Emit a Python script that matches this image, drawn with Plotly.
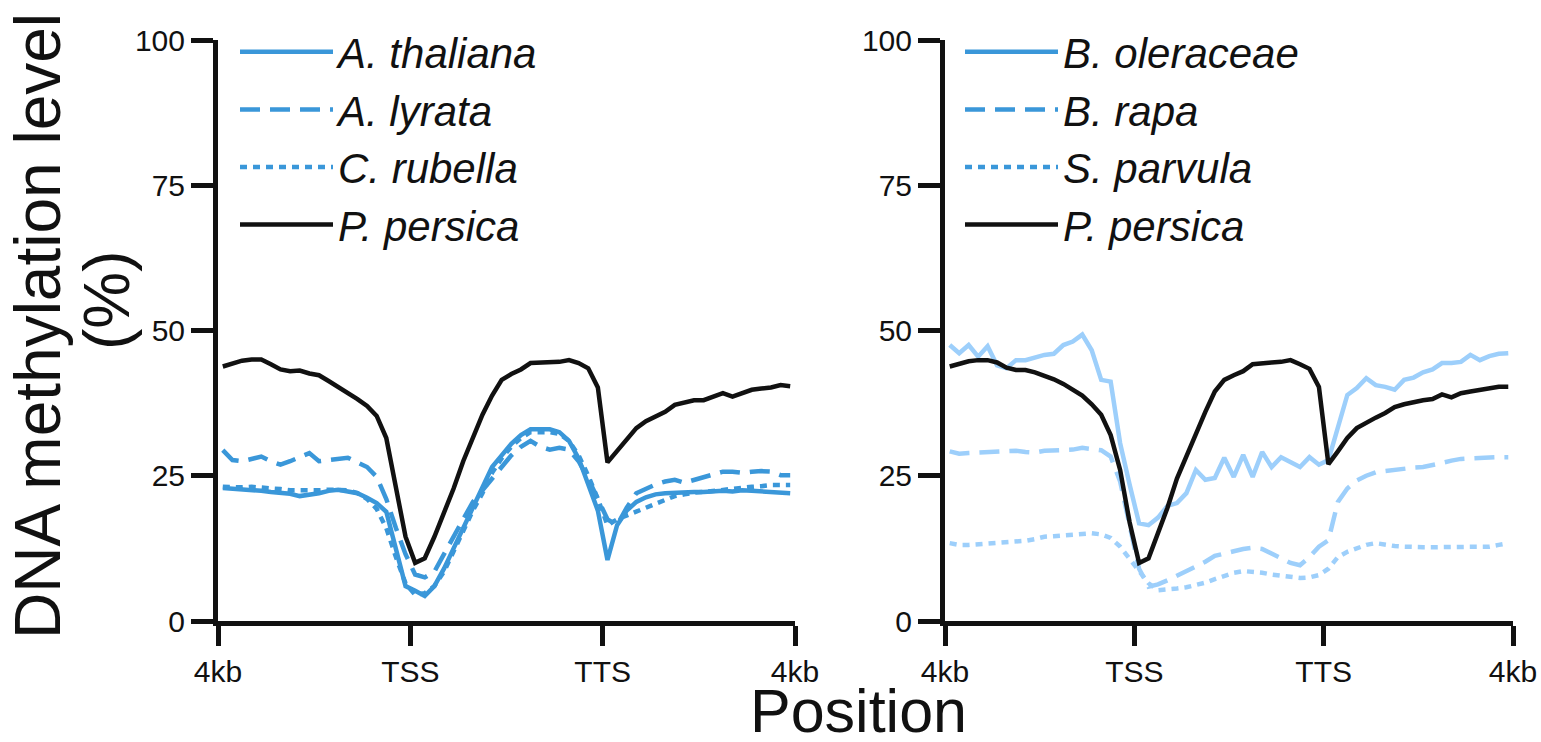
import plotly.graph_objects as go

# ---------------- data ----------------
tick_labels = ["4kb", "TSS", "TTS", "4kb"]
bins = [i + 0.5 for i in range(60)]

# left panel
p_persica_left = [43.8, 44.4, 44.8, 45.0, 45.0, 44.2, 43.3, 43.0, 43.1, 42.6,
                  42.3, 41.3, 40.3, 39.3, 38.2, 37.0, 35.3, 31.5, 23.0, 14.5,
                  10.0, 10.8, 14.5, 18.5, 22.8, 27.5, 31.5, 35.5, 38.8, 41.5,
                  42.5, 43.3, 44.4, 44.5, 44.5, 44.6, 44.9, 44.4, 43.5, 40.2,
                  27.3, 29.3, 31.3, 33.2, 34.4, 35.2, 36.0, 37.2, 37.7, 38.0,
                  38.0, 38.6, 39.2, 38.6, 39.2, 39.8, 40.0, 40.2, 40.6, 40.4]
a_thaliana = [22.9, 22.8, 22.7, 22.5, 22.4, 22.2, 22.1, 21.9, 21.5, 21.7,
              22.0, 22.4, 22.6, 22.3, 22.0, 21.2, 20.3, 18.8, 12.5, 6.0,
              5.2, 4.3, 6.0, 9.0, 12.5, 16.0, 19.5, 23.0, 26.5, 28.5,
              30.5, 32.0, 33.0, 33.0, 33.0, 32.5, 31.0, 28.0, 23.5, 19.0,
              10.5, 16.5, 19.0, 20.5, 21.3, 21.8, 22.0, 22.1, 22.2, 22.2,
              22.2, 22.3, 22.4, 22.3, 22.5, 22.4, 22.3, 22.2, 22.0, 22.0]
a_lyrata = [29.4, 27.7, 27.5, 28.0, 28.3, 27.5, 26.9, 27.5, 28.3, 28.9,
            27.5, 27.7, 28.0, 28.1, 27.3, 26.5, 24.8, 21.0, 16.0, 11.5,
            8.0, 7.5, 8.5, 11.5, 14.5, 17.5, 20.5, 22.5, 24.5, 26.5,
            28.5, 30.0, 31.0, 30.0, 29.5, 29.8, 29.5, 27.5, 24.5, 21.0,
            17.5, 16.5, 19.5, 22.0, 22.8, 23.5, 24.0, 24.3, 23.8, 24.3,
            24.8, 25.2, 25.7, 25.7, 25.5, 25.7, 25.8, 25.7, 25.1, 25.1]
c_rubella = [23.1, 23.0, 23.0, 23.1, 23.0, 22.8, 22.7, 22.5, 22.5, 22.4,
             22.5, 22.6, 22.5, 22.5, 22.0, 21.0, 19.3, 16.0, 11.0, 6.5,
             4.5, 4.8, 6.0, 8.5, 12.0, 15.5, 19.0, 22.0, 25.5, 28.0,
             30.0, 31.5, 32.5, 32.5, 32.5, 32.2, 31.0, 28.5, 25.0, 21.0,
             16.5, 17.5, 18.2, 18.8, 19.5, 20.3, 21.0, 21.5, 21.8, 22.1,
             22.2, 22.4, 22.6, 22.8, 22.9, 23.1, 23.2, 23.4, 23.4, 23.4]

# right panel
p_persica_right = [43.8, 44.3, 44.7, 44.9, 44.9, 44.5, 43.6, 43.2, 43.2, 42.8,
                   42.3, 41.6, 40.8, 39.7, 38.8, 37.3, 35.5, 32.0, 26.0, 17.0,
                   10.0, 10.8, 15.0, 19.5, 24.5, 28.5, 32.5, 36.0, 39.5, 41.5,
                   42.3, 43.0, 44.2, 44.4, 44.5, 44.6, 44.9, 44.2, 43.4, 40.3,
                   27.0, 29.2, 31.5, 33.2, 34.2, 35.0, 35.8, 36.8, 37.3, 37.7,
                   38.0, 38.2, 39.0, 38.5, 39.2, 39.5, 39.8, 40.0, 40.3, 40.3]
b_oleraceae = [47.5, 46.1, 47.5, 45.5, 47.3, 44.0, 43.5, 44.9, 44.9, 45.3,
               45.8, 46.0, 47.5, 48.1, 49.3, 46.6, 41.5, 41.2, 30.6, 23.5,
               16.8, 16.5, 17.8, 19.8, 20.3, 22.0, 26.0, 24.3, 24.6, 28.1,
               24.8, 28.6, 24.8, 29.1, 26.5, 28.2, 27.3, 26.5, 28.2, 26.9,
               27.7, 33.5, 38.9, 40.1, 41.8, 40.6, 40.3, 39.8, 41.5, 41.9,
               42.8, 43.3, 44.4, 44.4, 44.6, 45.8, 44.9, 45.6, 46.0, 46.1]
b_rapa = [29.2, 28.8, 28.9, 29.0, 29.1, 29.2, 29.3, 29.3, 29.1, 29.0,
          29.3, 29.4, 29.4, 29.5, 29.8, 29.6, 29.4, 28.3, 24.0, 16.5,
          9.0, 5.9, 6.3, 7.0, 7.8, 8.6, 9.3, 10.2, 11.2, 11.7,
          12.0, 12.4, 12.6, 12.4, 11.5, 10.8, 10.0, 9.6, 11.0, 12.8,
          13.9, 20.5, 22.8, 24.2, 25.0, 25.6, 25.8, 26.0, 26.3, 26.4,
          26.5, 26.8, 27.2, 27.6, 27.9, 28.0, 28.1, 28.2, 28.2, 28.2]
s_parvula = [13.4, 13.1, 13.1, 13.2, 13.4, 13.4, 13.5, 13.6, 13.8, 14.1,
             14.5, 14.6, 14.7, 14.8, 15.0, 15.1, 14.9, 14.3, 12.8, 10.7,
             8.3, 6.5, 5.3, 5.4, 5.6, 5.8, 6.2, 6.6, 7.2, 7.8,
             8.3, 8.6, 8.5, 8.3, 8.0, 7.8, 7.5, 7.4, 7.5, 7.9,
             9.0, 11.0, 11.9, 12.5, 13.1, 13.4, 13.1, 12.9, 12.8, 12.7,
             12.7, 12.7, 12.7, 12.7, 12.7, 12.7, 12.7, 12.8, 13.1, 13.4]

# ---------------- styles ----------------
BLUE = "#3a97d9"
LIGHT = "#9dcffb"
BLACK = "#111111"
DASH = "20px,10px"
DOT = "7px,6px"
FONT = "Arial, 'Liberation Sans', Helvetica, sans-serif"
LW = 4.5

fig = go.Figure()

left = [("A. thaliana", a_thaliana, BLUE, "solid"),
        ("A. lyrata", a_lyrata, BLUE, DASH),
        ("C. rubella", c_rubella, BLUE, DOT),
        ("P. persica", p_persica_left, BLACK, "solid")]
for name, ys, col, dash in left:
    fig.add_trace(go.Scatter(x=bins, y=ys, mode="lines", name=f"<i>{name}</i>",
                             line=dict(color=col, width=LW, dash=dash),
                             xaxis="x", yaxis="y", legend="legend"))

right = [("B. oleraceae", b_oleraceae, LIGHT, BLUE, "solid"),
         ("B. rapa", b_rapa, LIGHT, BLUE, DASH),
         ("S. parvula", s_parvula, LIGHT, BLUE, DOT),
         ("P. persica", p_persica_right, BLACK, BLACK, "solid")]
for name, ys, col, legcol, dash in right:
    fig.add_trace(go.Scatter(x=bins, y=ys, mode="lines", name=f"<i>{name}</i>",
                             line=dict(color=col, width=LW, dash=dash),
                             xaxis="x2", yaxis="y2", legendgroup=name,
                             showlegend=False))
    # legend swatch in the darker blue used by the original legend
    fig.add_trace(go.Scatter(x=[None], y=[None], mode="lines", name=f"<i>{name}</i>",
                             line=dict(color=legcol, width=LW, dash=dash),
                             xaxis="x2", yaxis="y2", legendgroup=name,
                             legend="legend2"))

W, H = 1541, 742


def px(x):
    return x / W


def py(y):
    return 1 - y / H


ydom = [py(621), py(40)]
axis_common = dict(showline=True, linewidth=5, linecolor=BLACK, ticks="outside",
                   tickwidth=5, tickcolor=BLACK, showgrid=False, zeroline=False,
                   automargin=False,
                   tickfont=dict(family=FONT, size=30, color="#111"))

legend_common = dict(xanchor="left", yanchor="top", bgcolor="rgba(0,0,0,0)",
                     itemwidth=93, tracegroupgap=0,
                     font=dict(family=FONT, size=42, color="#111"))

fig.update_layout(
    width=W, height=H, margin=dict(l=0, r=0, t=0, b=0, autoexpand=False),
    plot_bgcolor="white", paper_bgcolor="white",
    xaxis=dict(domain=[px(218), px(795)], range=[0, 60], tickvals=[0, 20, 40, 60],
               ticktext=tick_labels, ticklen=20, anchor="y", **axis_common),
    yaxis=dict(domain=ydom, range=[0, 100], tickvals=[0, 25, 50, 75, 100],
               ticklen=22, anchor="x", **axis_common),
    xaxis2=dict(domain=[px(945), px(1513)], range=[0, 60], tickvals=[0, 20, 40, 60],
                ticktext=tick_labels, ticklen=20, anchor="y2", **axis_common),
    yaxis2=dict(domain=ydom, range=[0, 100], tickvals=[0, 25, 50, 75, 100],
                ticklen=22, anchor="x2", **axis_common),
    legend=dict(x=px(235), y=py(18), **legend_common),
    legend2=dict(x=px(960), y=py(18), **legend_common),
    annotations=[
        dict(text="DNA methylation level", x=px(38), y=py(326), xref="paper", yref="paper",
             textangle=-90, showarrow=False, xanchor="center", yanchor="middle",
             font=dict(family=FONT, size=64, color="#111")),
        dict(text="(%)", x=px(107), y=py(300), xref="paper", yref="paper",
             textangle=-90, showarrow=False, xanchor="center", yanchor="middle",
             font=dict(family=FONT, size=64, color="#111")),
        dict(text="Position", x=px(858), y=py(711), xref="paper", yref="paper",
             showarrow=False, xanchor="center", yanchor="middle",
             font=dict(family=FONT, size=61, color="#111")),
    ],
)

# remove the browser's default 8px page margin so the figure fills the window
fig.write_html("out.html", config={"displayModeBar": False},
               post_script="document.body.style.margin='0';")
